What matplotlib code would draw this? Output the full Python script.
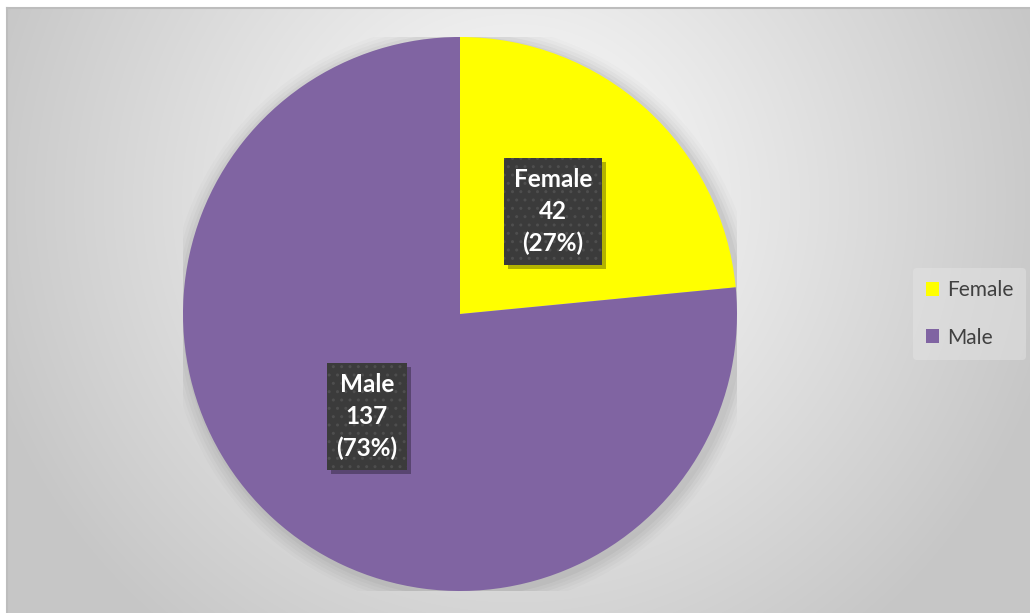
import numpy as np
import matplotlib
matplotlib.use("Agg")
import matplotlib.pyplot as plt
from matplotlib.patches import Rectangle, Circle

# Survey respondents by gender
categories = ["Female", "Male"]
counts = [42, 137]
pct_labels = ["27%", "73%"]
colors = ["#FFFF00", "#8064A2"]

W, H = 1030, 613
fig = plt.figure(figsize=(W / 100, H / 100), dpi=100)
fig.patch.set_facecolor("white")

# Chart-area background: soft radial grey gradient with a thin border
left_px, top_px = 7, 8
bg = fig.add_axes([left_px / W, 0, 1 - left_px / W, (H - top_px) / H])
bg.set_axis_off()
yy, xx = np.mgrid[top_px:H, left_px:W]
d = np.hypot(xx - 515, yy - 200)
v = np.clip(1.0 - 0.0004 * d, 0.78, 1.0)
img = np.dstack([v, v, v])
bg.imshow(img, extent=[0, 1, 0, 1], aspect="auto", interpolation="bilinear")
bg.set_xlim(0, 1)
bg.set_ylim(0, 1)
bg.plot([0, 0], [0, 1], color="#bdbdbd", lw=1.5, transform=bg.transAxes, clip_on=False)
bg.plot([0, 1], [1, 1], color="#bdbdbd", lw=1.5, transform=bg.transAxes, clip_on=False)

# Pie axes
cx, cy, r = 460, 314, 277
ax = fig.add_axes([(cx - r) / W, (H - cy - r) / H, 2 * r / W, 2 * r / H])
ax.set_axis_off()

# soft halo behind the pie
for k, a in enumerate([0.035, 0.03, 0.025, 0.02, 0.015]):
    ax.add_patch(Circle((0.01, -0.01), 1.0 + 0.012 * (k + 1), color="black",
                        alpha=a, lw=0, zorder=0))

wedges, _ = ax.pie(counts, colors=colors, startangle=90, counterclock=False,
                   radius=1.0, wedgeprops=dict(edgecolor="none", linewidth=0))
for w in wedges:
    w.set_zorder(2)
ax.set_xlim(-1, 1)
ax.set_ylim(-1, 1)

# Data labels in dark patterned boxes
labels = []
for w, name, n, p in zip(wedges, categories, counts, pct_labels):
    mid = np.deg2rad((w.theta1 + w.theta2) / 2)
    x, y = 0.5 * np.cos(mid), 0.5 * np.sin(mid)
    txt = f"{name}\n{n}\n({p})"
    t = ax.text(x, y, txt, ha="center", va="center", fontsize=17.5,
                fontweight="bold", family="Lato", linespacing=1.45,
                color="white", zorder=5,
                bbox=dict(boxstyle="square,pad=0.4", fc="#3b3b3b",
                          ec="#4e4e4e", lw=0, hatch=".."))
    labels.append(t)

# drop shadows under the label boxes
fig.canvas.draw()
for t in labels:
    ext = t.get_bbox_patch().get_window_extent()
    sh = Rectangle((ext.x0 + 4, ext.y0 - 4), ext.width, ext.height,
                   transform=None, fc=(0, 0, 0, 0.3), ec="none", zorder=4)
    ax.add_artist(sh)

# Legend
handles = [Rectangle((0, 0), 1, 1, fc=c, ec="none") for c in colors]
leg = fig.legend(handles, categories, loc="center left",
                 bbox_to_anchor=(913 / W, (H - 314) / H),
                 frameon=True, prop=dict(family="Lato", size=15),
                 handlelength=0.65, handleheight=0.65, handletextpad=0.4,
                 labelspacing=1.3, borderpad=0.6, borderaxespad=0)
leg.get_frame().set_facecolor("#e6e6e6")
leg.get_frame().set_edgecolor("none")
leg.get_frame().set_alpha(0.45)
for t in leg.get_texts():
    t.set_color("#404040")

fig.savefig("out.png", dpi=100)
